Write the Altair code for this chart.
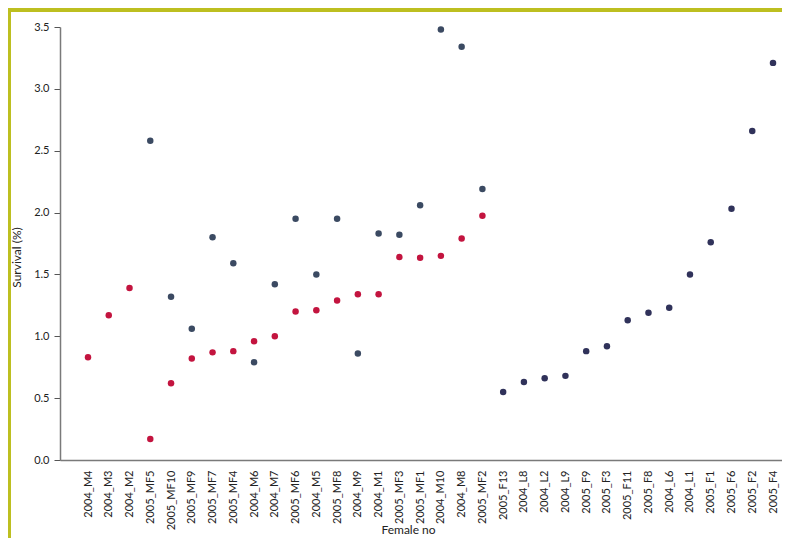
import altair as alt
import pandas as pd

categories = ["2004_M4", "2004_M3", "2004_M2", "2005_MF5", "2005_MF10", "2005_MF9",
              "2005_MF7", "2005_MF4", "2004_M6", "2004_M7", "2005_MF6", "2004_M5",
              "2005_MF8", "2004_M9", "2004_M1", "2005_MF3", "2005_MF1", "2004_M10",
              "2004_M8", "2005_MF2", "2005_F13", "2004_L8", "2004_L2", "2004_L9",
              "2005_F9", "2005_F3", "2005_F11", "2005_F8", "2004_L6", "2004_L1",
              "2005_F1", "2005_F6", "2005_F2", "2005_F4"]

# red series: first 20 categories
red_cats = categories[:20]
red_vals = [0.83, 1.17, 1.39, 0.17, 0.62, 0.82, 0.87, 0.88, 0.96, 1.00,
            1.20, 1.21, 1.29, 1.34, 1.34, 1.64, 1.635, 1.65, 1.79, 1.975]

# slate series: categories 2005_MF5 .. 2005_MF2
slate_cats = categories[3:20]
slate_vals = [2.58, 1.32, 1.06, 1.80, 1.59, 0.79, 1.42, 1.95, 1.50, 1.95,
              0.86, 1.83, 1.82, 2.06, 3.48, 3.34, 2.19]

# dark series: right-hand group
dark_cats = categories[20:]
dark_vals = [0.55, 0.63, 0.66, 0.68, 0.88, 0.92, 1.13, 1.19, 1.23, 1.50,
             1.76, 2.03, 2.66, 3.21]

series_names = ["red", "slate", "dark"]
series_colors = ["#c3143f", "#3b4a62", "#30325a"]
y_ticks = [0.0, 0.5, 1.0, 1.5, 2.0, 2.5, 3.0, 3.5]

rows = []
for name, cats, vals in [("red", red_cats, red_vals),
                         ("slate", slate_cats, slate_vals),
                         ("dark", dark_cats, dark_vals)]:
    for c, v in zip(cats, vals):
        rows.append({"female": c, "survival": v, "series": name})
df = pd.DataFrame(rows)

W, H = 722, 433
PAD_L, PAD_T, PAD_B = 52, 19, 78
FONT = "Lato"

points = alt.Chart(df).mark_circle(size=42, opacity=1).encode(
    x=alt.X("female:N", sort=categories,
            scale=alt.Scale(type="point", padding=0.891, align=0.757),
            axis=alt.Axis(title="Female no", labelAngle=-90, ticks=False,
                          labelPadding=10, labelFontSize=11, labelColor="#222",
                          titleFontSize=12, titleColor="#222", titleFontWeight="normal",
                          titleX=348, titleY=64, titleBaseline="top",
                          domainColor="#7a7a7a", domainWidth=1.5,
                          labelFont=FONT, titleFont=FONT)),
    y=alt.Y("survival:Q", scale=alt.Scale(domain=[0, 3.5], nice=False, zero=True),
            axis=alt.Axis(title="Survival (%)", values=y_ticks, format=".1f",
                          tickSize=6, tickColor="#555", labelPadding=5,
                          labelFontSize=11, labelColor="#222",
                          titleFontSize=12, titleColor="#222", titleFontWeight="normal",
                          titleX=-44, titleY=230, titleBaseline="middle",
                          domainColor="#7a7a7a", domainWidth=1.5,
                          labelFont=FONT, titleFont=FONT)),
    color=alt.Color("series:N", scale=alt.Scale(domain=series_names, range=series_colors),
                    legend=None),
)

# decorative frame strips (top and left), as in the reference page border
frame_df = pd.DataFrame({"k": [0]})
top_strip = alt.Chart(frame_df).mark_rect(color="#bdbf20").encode(
    x=alt.value(-PAD_L), x2=alt.value(W), y=alt.value(-PAD_T), y2=alt.value(-PAD_T + 4))
left_strip = alt.Chart(frame_df).mark_rect(color="#bdbf20").encode(
    x=alt.value(-PAD_L), x2=alt.value(-PAD_L + 3), y=alt.value(-PAD_T), y2=alt.value(H + PAD_B))

chart = alt.layer(top_strip, left_strip, points).properties(
    width=W, height=H,
    autosize=alt.AutoSizeParams(type="none"),
    padding={"left": PAD_L, "top": PAD_T, "right": 0, "bottom": PAD_B},
    background="white",
).configure_view(stroke=None).configure_axis(grid=False)

chart.save("out.html", embed_options={"renderer": "svg", "actions": False})
